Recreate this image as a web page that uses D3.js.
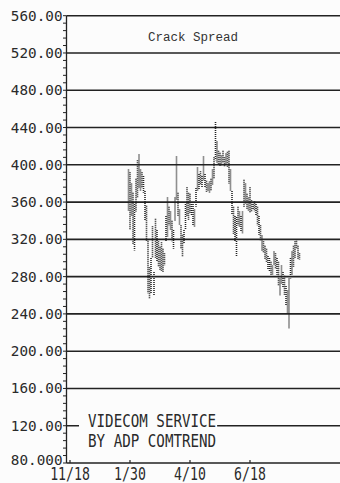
<!DOCTYPE html>
<html>
<head>
<meta charset="utf-8">
<script src="https://cdn.jsdelivr.net/npm/d3@7"></script>
<style>
  html, body { margin: 0; padding: 0; background: #fcfcfc; }
  svg { display: block; }
</style>
</head>
<body>
<svg id="chart" width="340" height="483"></svg>
<script>
// Daily high/low of the crack spread, one bar per trading day
const firstDay = 39;   // trading-day index of the first bar (11/18 = day 0)
const highs = [
  395, 392, 380, 370, 360, 385, 405, 411, 395, 392, 388, 372, 356, 320, 290, 300,
  334, 285, 342, 330, 318, 312, 317, 310, 305, 345, 365, 355, 350, 340, 330, 365,
  409, 370, 352, 335, 325, 330, 360, 376, 370, 369, 360, 358, 352, 375, 397, 390,
  393, 388, 409, 390, 383, 380, 382, 385, 395, 408, 446, 425, 415, 413, 410, 415,
  408, 412, 414, 415, 395, 372, 355, 345, 344, 355, 350, 345, 350, 384, 380, 369,
  365, 376, 362, 360, 361, 358, 355, 345, 335, 324, 318, 313, 310, 302, 300, 296,
  292, 307, 305, 300, 296, 278, 292, 285, 281, 270, 265, 278, 300, 307, 313, 318,
  320, 313, 305
];
const lows = [
  350, 330, 345, 315, 308, 350, 365, 375, 372, 375, 370, 340, 318, 262, 256, 262,
  300, 260, 300, 296, 290, 287, 286, 285, 292, 318, 322, 335, 330, 318, 310, 340,
  362, 345, 335, 310, 301, 315, 330, 345, 340, 348, 345, 335, 333, 355, 372, 374,
  378, 376, 383, 375, 370, 372, 370, 372, 378, 385, 405, 402, 400, 398, 399, 402,
  398, 400, 398, 380, 372, 347, 325, 318, 301, 335, 333, 328, 326, 355, 358, 352,
  350, 348, 350, 352, 350, 345, 335, 325, 318, 308, 305, 298, 296, 287, 285, 281,
  282, 292, 289, 282, 270, 260, 272, 268, 260, 249, 240, 224, 278, 282, 290, 300,
  310, 299, 298
];

// Axis definitions
const yTicks = [560, 520, 480, 440, 400, 360, 320, 280, 240, 200, 160, 120, 80];
const yTickLabels = ["560.00", "520.00", "480.00", "440.00", "400.00", "360.00",
  "320.00", "280.00", "240.00", "200.00", "160.00", "120.00", "80.000"];
const xTickDays = [0, 40, 80, 120];
const xTickLabels = ["11/18", "1/30", "4/10", "6/18"];

const title = "Crack Spread";
const creditLines = ["VIDECOM SERVICE", "BY ADP COMTREND"];

const bars = highs.map((h, i) => ({ day: firstDay + i, high: h, low: lows[i] }));

const svg = d3.select("#chart");
const ink = "#222";
const monoFont = "'DejaVu Sans Mono', monospace";

const x = d3.scaleLinear().domain([0, 120]).range([70, 250]);
const y = d3.scaleLinear().domain([80, 560]).range([463, 15.7]);
const plotLeft = 66.5, plotRight = 340;

// Horizontal grid lines at every labelled value
svg.append("g")
  .selectAll("line")
  .data(yTicks)
  .join("line")
  .attr("x1", plotLeft)
  .attr("x2", plotRight)
  .attr("y1", d => y(d))
  .attr("y2", d => y(d))
  .attr("stroke", ink)
  .attr("stroke-width", 1.6);

// Vertical axis with minor ticks
const yAxisG = svg.append("g").attr("transform", `translate(${plotLeft},0)`);
yAxisG.append("line")
  .attr("y1", y(560)).attr("y2", y(80))
  .attr("stroke", ink).attr("stroke-width", 1.3);
yAxisG.selectAll("line.minor")
  .data(d3.range(80, 561, 8))
  .join("line")
  .attr("class", "minor")
  .attr("x1", -3.5).attr("x2", 0)
  .attr("y1", d => y(d)).attr("y2", d => y(d))
  .attr("stroke", ink).attr("stroke-width", 1);
yAxisG.selectAll("text")
  .data(yTicks)
  .join("text")
  .attr("x", -4)
  .attr("y", d => y(d) + (d === 80 ? 2 : 5))
  .attr("text-anchor", "end")
  .attr("font-family", monoFont)
  .attr("font-size", 14.3)
  .attr("fill", "#2a2a2a")
  .text((d, i) => yTickLabels[i]);

// Horizontal axis ticks and date labels
const xAxisG = svg.append("g");
xAxisG.selectAll("line")
  .data(xTickDays)
  .join("line")
  .attr("x1", d => x(d)).attr("x2", d => x(d))
  .attr("y1", y(80) - 3).attr("y2", y(80))
  .attr("stroke", ink).attr("stroke-width", 1.2);
xAxisG.selectAll("text")
  .data(xTickDays)
  .join("text")
  .attr("transform", d => `translate(${x(d)},${y(80) + 17}) scale(1,1.3)`)
  .attr("text-anchor", "middle")
  .attr("font-family", monoFont)
  .attr("font-size", 13.2)
  .attr("fill", "#2a2a2a")
  .text((d, i) => xTickLabels[i]);

// Daily high-low bars, drawn as dotted strokes
svg.append("g")
  .selectAll("line")
  .data(bars)
  .join("line")
  .attr("x1", d => x(d.day))
  .attr("x2", d => x(d.day))
  .attr("y1", d => y(d.high))
  .attr("y2", d => y(d.low))
  .attr("stroke", "#222")
  .attr("stroke-width", 1.6)
  .attr("stroke-dasharray", "1,1");

// Title
svg.append("text")
  .attr("x", 193)
  .attr("y", 41)
  .attr("text-anchor", "middle")
  .attr("font-family", "'Liberation Mono', 'Courier New', monospace")
  .attr("font-size", 12.5)
  .attr("fill", "#333")
  .text(title);

// Service credit, set on a blank patch over the grid
const credit = svg.append("g");
const creditBg = credit.append("rect").attr("fill", "#fcfcfc");
credit.selectAll("text")
  .data(creditLines)
  .join("text")
  .attr("transform", (d, i) => `translate(88,${427 + i * 19.5}) scale(1,1.2)`)
  .attr("font-family", monoFont)
  .attr("font-size", 14.2)
  .attr("fill", "#2a2a2a")
  .text(d => d);
const bb = credit.node().getBBox();
creditBg
  .attr("x", bb.x - 9).attr("y", bb.y)
  .attr("width", bb.width + 10).attr("height", bb.height);
</script>
</body>
</html>
